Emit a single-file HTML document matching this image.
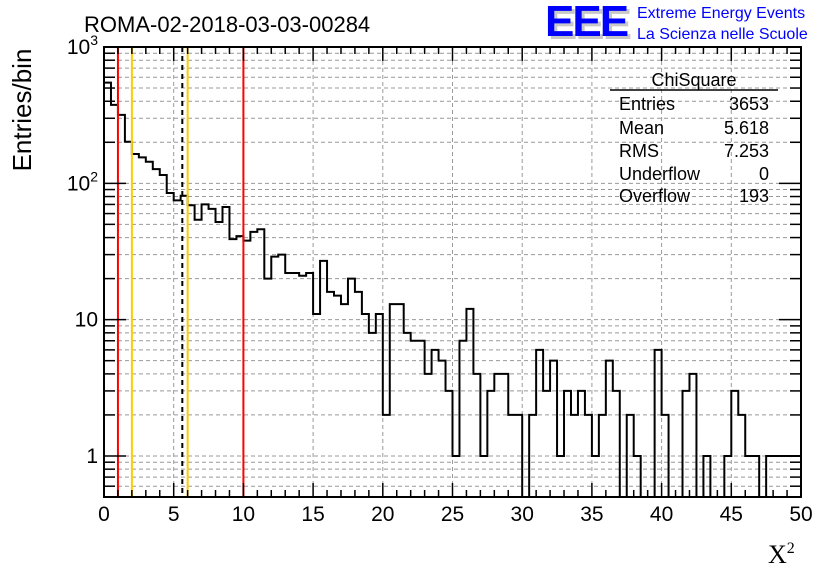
<!DOCTYPE html>
<html><head><meta charset="utf-8"><style>
body{margin:0;background:#fff;}
svg text{font-family:"Liberation Sans",sans-serif;}
</style></head><body>
<svg id="chart" width="836" height="572" viewBox="0 0 836 572" xmlns="http://www.w3.org/2000/svg">
<rect width="836" height="572" fill="#fff"/>
<g id="grid"></g>
<g id="marks"></g>
<g id="axes"></g>
<text x="84" y="32" font-size="22">ROMA-02-2018-03-03-00284</text>
<g>
<text x="548" y="39" font-size="44" font-weight="bold" fill="#c8c8c8" letter-spacing="-2">EEE</text>
<text x="545" y="36" font-size="44" font-weight="bold" fill="#0000ff" letter-spacing="-2">EEE</text>
<text x="637" y="18" font-size="16" fill="#0000ff">Extreme Energy Events</text>
<text x="637" y="39" font-size="16" fill="#0000ff">La Scienza nelle Scuole</text>
</g>
<g font-size="18">
<text x="694" y="86" text-anchor="middle">ChiSquare</text>
<line x1="610" y1="90" x2="778" y2="90" stroke="#000" stroke-width="1.5"/>
<text x="619" y="110">Entries</text><text x="769" y="110" text-anchor="end">3653</text>
<text x="619" y="134">Mean</text><text x="769" y="134" text-anchor="end">5.618</text>
<text x="619" y="157">RMS</text><text x="769" y="157" text-anchor="end">7.253</text>
<text x="619" y="180">Underflow</text><text x="769" y="180" text-anchor="end">0</text>
<text x="619" y="202">Overflow</text><text x="769" y="202" text-anchor="end">193</text>
</g>
<text transform="translate(31,110) rotate(-90)" text-anchor="middle" font-size="26">Entries/bin</text>
<text x="768" y="563" font-size="26" style="font-family:'Liberation Serif',serif">X<tspan dy="-10" font-size="16">2</tspan></text>
</svg>
<script>
const binEdges=[0,50];
const counts=[548,376,318,202,164,155,144,127,115,85,75,81,69,54,70,65,52,67,39,41,38,44,46,20,29,30,22,22,21,22,11,27,16,15,13,20,16,11,8,11,2,13,13,8,7,7,4,6,5,3,1,7,12,4,1,3,4,4,2,2,0,2,6,3,5,1,3,2,3,2,1,2,5,3,0,2,1,0,0,6,2,0,0,3,4,0,1,0,0,1,3,2,1,1,0,1,1,1,1,1];
const xTicks=[0,5,10,15,20,25,30,35,40,45,50];
const yDecades=[1,10,100,1000];
const yTickLabels=["1","10","10","10"];
const redLines=[1,10];
const yellowLines=[2,6];
const meanLine=[5.618];
const X0=104,X1=801,Y0=47,Y1=497,YMIN=0.5,YMAX=1000;
const sx=v=>X0+(v-binEdges[0])/(binEdges[1]-binEdges[0])*(X1-X0);
const sy=v=>Y1-(Math.log10(v)-Math.log10(YMIN))/(Math.log10(YMAX)-Math.log10(YMIN))*(Y1-Y0);
const NS="http://www.w3.org/2000/svg";
function mk(p,t,a){const e=document.createElementNS(NS,t);for(const k in a)e.setAttribute(k,a[k]);p.appendChild(e);return e;}
const grid=document.getElementById('grid'),marks=document.getElementById('marks'),axes=document.getElementById('axes');
xTicks.forEach(v=>{const l=mk(grid,'line',{x1:sx(v),x2:sx(v),y1:Y0,y2:Y1,stroke:'#999','stroke-dasharray':'4,3'});

});
const gv=[0.5,0.6,0.7,0.8,0.9];yDecades.forEach(dd=>{for(let m=1;m<10;m++){const v=dd*m;if(v<=YMAX)gv.push(v);}});
gv.forEach(v=>{const y=sy(v);const l=mk(grid,'line',{x1:X0,x2:X1,y1:y,y2:y,stroke:'#999','stroke-dasharray':'4,3'});

});
const n=counts.length,w=(binEdges[1]-binEdges[0])/n;
const cy=v=>v>0?Math.max(Y0,Math.min(Y1,sy(v))):Y1;
let d='M'+sx(0)+','+cy(counts[0]);
counts.forEach((c,i)=>{const y=cy(c);d+=' L'+sx(i*w)+','+y+' L'+sx((i+1)*w)+','+y;});
const h=mk(marks,'path',{d:d,fill:'none',stroke:'#000','stroke-width':2});


function vline(v,col,dash,name){const l=mk(marks,'line',{x1:sx(v),x2:sx(v),y1:Y0,y2:Y1,stroke:col,'stroke-width':2});if(dash)l.setAttribute('stroke-dasharray',dash);

}
redLines.forEach(v=>vline(v,'#ff0000',null,'red-cut-line'));
yellowLines.forEach(v=>vline(v,'#ffcc00',null,'yellow-cut-line'));
meanLine.forEach(v=>vline(v,'#000',"5,4",'mean-line'));
const f=mk(axes,'rect',{x:X0,y:Y0,width:X1-X0,height:Y1-Y0,fill:'none',stroke:'#000','stroke-width':2});


for(let v=0;v<=50;v++){const L=v%5===0?14:7,x=sx(v);
mk(axes,'line',{x1:x,x2:x,y1:Y1,y2:Y1-L,stroke:'#000','stroke-width':1.5});
mk(axes,'line',{x1:x,x2:x,y1:Y0,y2:Y0+L,stroke:'#000','stroke-width':1.5});}
xTicks.forEach(v=>{const t=mk(axes,'text',{x:sx(v),y:521,'text-anchor':'middle','font-size':21});t.textContent=v;

});
gv.forEach(v=>{const major=[1,10,100,1000].includes(v);const L=major?22:11,y=sy(v);
mk(axes,'line',{x1:X0,x2:X0+L,y1:y,y2:y,stroke:'#000','stroke-width':1.5});
mk(axes,'line',{x1:X1,x2:X1-L,y1:y,y2:y,stroke:'#000','stroke-width':1.5});});
yDecades.forEach((v,i)=>{const t=mk(axes,'text',{x:98,y:sy(v)+7,'text-anchor':'end','font-size':21});
t.textContent=yTickLabels[i];if(i>=2){const s=mk(t,'tspan',{dy:-9,'font-size':14});s.textContent=String(i);}

});
</script>
</body></html>
